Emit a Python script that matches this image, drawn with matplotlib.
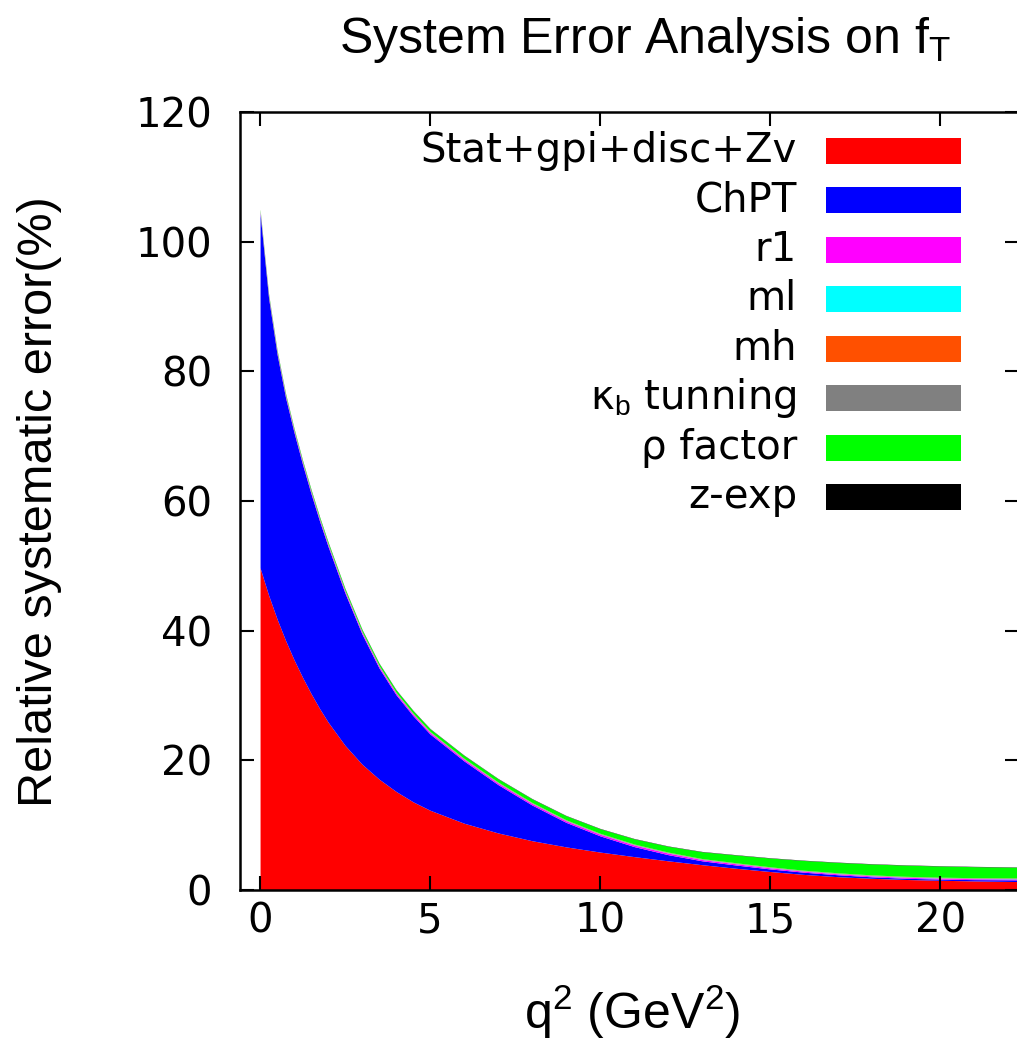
import numpy as np
import matplotlib
matplotlib.use('Agg')
import matplotlib.pyplot as plt
from matplotlib.patches import Rectangle

plt.rcParams['mathtext.fontset'] = 'custom'
plt.rcParams['mathtext.rm'] = 'Liberation Sans'
plt.rcParams['mathtext.it'] = 'Liberation Sans:italic'

# q^2 grid (GeV^2) and relative systematic error per source (%)
q2 = [0, 0.25, 0.5, 0.75, 1, 1.25, 1.5, 1.75, 2, 2.5, 3, 3.5, 4, 4.5, 5, 6, 7,
      8, 9, 10, 11, 12, 13, 14, 15, 16, 17, 18, 19, 20, 21, 22.3]
stat = [49.7, 45.5, 41.8, 38.5, 35.5, 32.8, 30.3, 28.0, 25.9, 22.3, 19.4, 17.1,
        15.2, 13.6, 12.3, 10.3, 8.8, 7.6, 6.65, 5.85, 5.15, 4.5, 3.9, 3.35, 2.85,
        2.4, 2.05, 1.8, 1.62, 1.5, 1.4, 1.3]
chpt = [54.65, 45.85, 40.85, 37.45, 35.05, 32.83, 30.81, 28.9, 27.09, 23.47,
        20.05, 17.13, 14.9, 13.27, 11.75, 9.6, 7.45, 5.5, 3.78, 2.5, 1.55,
        0.95, 0.6, 0.5, 0.4, 0.34, 0.3, 0.23, 0.19, 0.18, 0.2, 0.26]
r1 = [0.25] * 22 + [0.2, 0.2, 0.18, 0.16, 0.15, 0.15, 0.15, 0.15, 0.15, 0.15]
ml = [0.05] * len(q2)
mh = [0.05] * len(q2)
kappa = [0.05] * len(q2)
rho = [0.2, 0.2, 0.2, 0.2, 0.2, 0.22, 0.24, 0.25, 0.26, 0.28, 0.3, 0.32, 0.35,
       0.38, 0.4, 0.45, 0.5, 0.55, 0.62, 0.7, 0.8, 0.9, 1.05, 1.2, 1.35, 1.5,
       1.6, 1.68, 1.72, 1.72, 1.7, 1.65]
zexp = [0.05] * len(q2)

layers = [stat, chpt, r1, ml, mh, kappa, rho, zexp]
names = ['Stat+gpi+disc+Zv', 'ChPT', 'r1', 'ml', 'mh',
         'κ$_\\mathrm{b}$ tunning', 'ρ factor', 'z-exp']
colors = ['#ff0000', '#0000ff', '#ff00ff', '#00ffff', '#ff5000',
          '#808080', '#00ff00', '#000000']

W, H = 1017, 1044
fig = plt.figure(figsize=(W / 100, H / 100), dpi=100)
ax = fig.add_axes([240 / W, 1 - 890 / H, 779 / W, 778 / H])

# stacked error budget, bottom to top in legend order
base = np.zeros(len(q2))
for vals, c in zip(layers, colors):
    top = base + np.array(vals)
    ax.fill_between(q2, base, top, color=c, lw=0)
    base = top

ax.set_xlim(-0.59, 22.32)
ax.set_ylim(0, 120)
ax.set_xticks([0, 5, 10, 15, 20])
ax.set_yticks(range(0, 121, 20))
for s in ax.spines.values():
    s.set_linewidth(1.8)
ax.tick_params(direction='in', length=10, width=1.5, top=True, right=True,
               labelsize=29)
ax.tick_params(axis='x', pad=8)
ax.tick_params(axis='y', pad=20)
for lab in ax.get_xticklabels() + ax.get_yticklabels():
    lab.set_family('DejaVu Sans')

# legend drawn by hand: label right-aligned, colour box to its right
row_y = [151, 200, 250, 299, 349, 398, 448, 497]
for name, c, yy in zip(names, colors, row_y):
    fig.text(797 / W, 1 - yy / H, name, ha='right', va='center',
             fontsize=29, family='DejaVu Sans')
    fig.patches.append(Rectangle((826 / W, 1 - (yy + 13) / H), 135 / W, 26 / H,
                                 transform=fig.transFigure, color=c, lw=0))

fig.text(645 / W, 1 - 40 / H, 'System Error Analysis on f$_\\mathrm{T}$',
         ha='center', va='center', fontsize=36, family='Liberation Sans')
fig.text(40 / W, 1 - 502 / H, 'Relative systematic error(%)', rotation=90,
         ha='center', va='center', fontsize=35, family='Liberation Sans')
fig.text(632 / W, 1 - 1012 / H, 'q$^\\mathrm{2}$ (GeV$^\\mathrm{2}$)',
         ha='center', va='center', fontsize=36, family='Liberation Sans')

fig.savefig('out.png', dpi=100)
